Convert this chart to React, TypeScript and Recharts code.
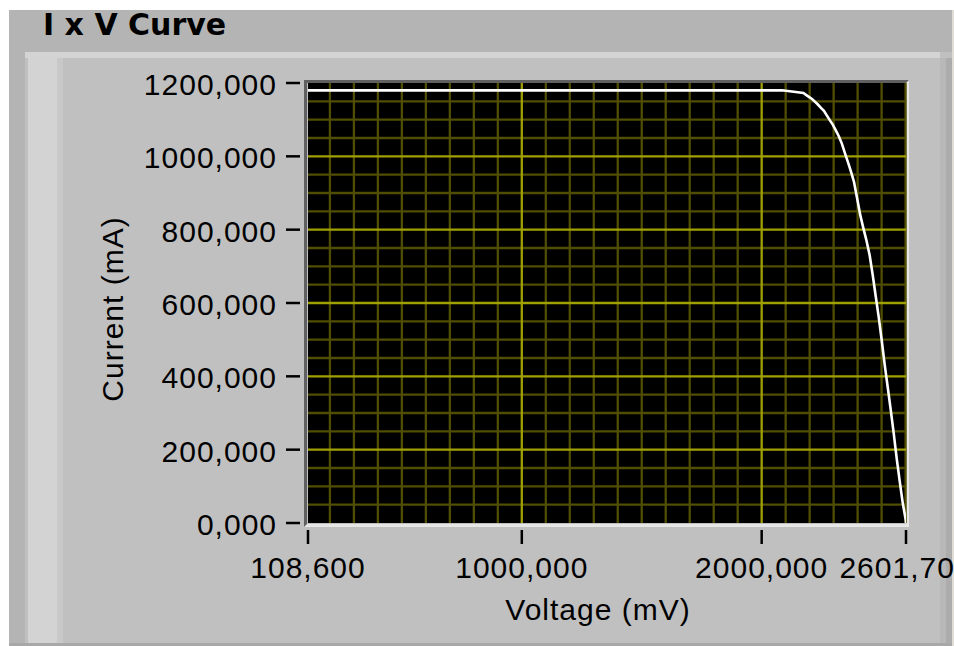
import { LineChart, Line, XAxis, YAxis, CartesianGrid } from "recharts";

// I x V curve, voltage in mV and current in mA
const voltage = [
  108.6, 2085, 2174, 2190.7, 2208.7, 2220.8, 2233.3, 2246.2, 2259.5, 2272,
  2284.6, 2297, 2309.6, 2322, 2334.7, 2347, 2359.7, 2372, 2385, 2397.3,
  2410.6, 2423.6, 2436, 2450.2, 2462.8, 2475.3, 2487.8, 2500.3, 2512.8,
  2525.4, 2537.9, 2550.4, 2562.9, 2575.4, 2588, 2600.5, 2601.7,
];
const current = [
  1180, 1180, 1173, 1165, 1157, 1150, 1142, 1133, 1124, 1111, 1098, 1086,
  1070, 1054, 1034, 1009, 984, 959, 930, 888, 841, 805, 773, 730, 677, 619,
  562, 499, 432, 371, 309, 245, 176, 114, 55, 9, 0,
];

const xTicks = [108.6, 1000, 2000, 2601.7];
const yTicks = [0, 200, 400, 600, 800, 1000, 1200];

const xMajorGrid = [1000, 2000];
const yMajorGrid = [200, 400, 600, 800, 1000];
const xMinorGrid = [
  200, 300, 400, 500, 600, 700, 800, 900, 1100, 1200, 1300, 1400, 1500, 1600,
  1700, 1800, 1900, 2100, 2200, 2300, 2400, 2500, 2600,
];
const yMinorGrid = [
  50, 100, 150, 250, 300, 350, 450, 500, 550, 650, 700, 750, 850, 900, 950,
  1050, 1100, 1150,
];

const data = voltage.map((v, i) => ({ v, i: current[i] }));

const W = 954;
const H = 646;
const PLOT_L = 308;
const PLOT_R = 906;
const PLOT_T = 83;
const PLOT_B = 523;
const X_AXIS_H = 100;

const FONT = "'Liberation Sans', Arial, sans-serif";
const fmt = (v: number) => v.toFixed(3).replace(".", ",");

function YTick({ x, y, payload }: any) {
  return (
    <g>
      <line x1={x - 22} x2={x - 8} y1={y} y2={y} stroke="#000" strokeWidth={2.5} />
      <text x={x - 31} y={y + 12} textAnchor="end" fontFamily={FONT} fontSize={30} letterSpacing={1} fill="#000">
        {fmt(payload.value)}
      </text>
    </g>
  );
}

function XTick({ x, y, payload }: any) {
  return (
    <g>
      <line x1={x} x2={x} y1={y + 7} y2={y + 21} stroke="#000" strokeWidth={2.5} />
      <text x={x} y={y + 55} textAnchor="middle" fontFamily={FONT} fontSize={30} letterSpacing={1} fill="#000">
        {fmt(payload.value)}
      </text>
    </g>
  );
}

const box = (l: number, t: number, w: number, h: number, bg: string): React.CSSProperties => ({
  position: "absolute",
  left: l,
  top: t,
  width: w,
  height: h,
  background: bg,
});

export default function App() {
  return (
    <div style={{ position: "absolute", left: 0, top: 0, width: W, height: H, overflow: "hidden", background: "#fff" }}>
      {/* panel chrome */}
      <div style={box(9, 10, 943, 42, "#b4b4b4")} />
      <div style={box(9, 52, 943, 594, "#c0c0c0")} />
      <div style={box(25, 52, 915, 6, "#d4d4d4")} />
      <div style={box(9, 52, 16, 594, "#b4b4b4")} />
      <div style={box(28, 55, 29, 591, "#d3d3d3")} />
      <div style={box(57, 58, 6, 588, "#c8c8c8")} />
      <div style={box(940, 58, 6, 588, "#b8b8b8")} />
      <div style={box(946, 58, 6, 588, "#acacac")} />
      <div style={box(952, 10, 2, 636, "#e0dcd6")} />
      <div style={box(9, 643, 943, 3, "#a8a8a8")} />
      <div
        style={{
          position: "absolute",
          left: 43,
          top: 9.5,
          fontFamily: "'DejaVu Sans', sans-serif",
          fontWeight: "bold",
          fontSize: 30,
          lineHeight: "30px",
          color: "#000",
          whiteSpace: "nowrap",
        }}
      >
        I x V Curve
      </div>
      {/* plot bevel */}
      <div
        style={{
          position: "absolute",
          left: PLOT_L - 4,
          top: PLOT_T - 3,
          width: PLOT_R - PLOT_L + 1,
          height: PLOT_B - PLOT_T + 1,
          borderTop: "3px solid #606060",
          borderLeft: "3px solid #606060",
          borderRight: "3px solid #e6e6e6",
          borderBottom: "3px solid #e6e6e6",
        }}
      />
      <div style={{ position: "absolute", left: 0, top: 0 }}>
        <LineChart
          width={W}
          height={H}
          data={data}
          margin={{ top: PLOT_T, right: W - PLOT_R, bottom: H - PLOT_B - X_AXIS_H, left: 0 }}
        >
          <CartesianGrid
            fill="#000"
            stroke="#504e00"
            strokeWidth={2.3}
            horizontalValues={yMinorGrid}
            verticalValues={xMinorGrid}
          />
          <CartesianGrid
            stroke="#a0a000"
            strokeWidth={2.3}
            horizontalValues={yMajorGrid}
            verticalValues={xMajorGrid}
          />
          <XAxis
            dataKey="v"
            type="number"
            domain={[108.6, 2601.7]}
            ticks={xTicks}
            allowDataOverflow
            height={X_AXIS_H}
            axisLine={false}
            tickLine={false}
            tickSize={0}
            tickMargin={0}
            interval={0}
            tick={<XTick />}
            label={(p: any) => {
              const vb = p.viewBox;
              return (
                <text x={vb.x + vb.width / 2 - 9} y={vb.y + 97} textAnchor="middle" fontFamily={FONT} fontSize={30} letterSpacing={1} fill="#000">
                  Voltage (mV)
                </text>
              );
            }}
          />
          <YAxis
            dataKey="i"
            type="number"
            domain={[0, 1200]}
            ticks={yTicks}
            allowDataOverflow
            width={PLOT_L}
            axisLine={false}
            tickLine={false}
            tickSize={0}
            tickMargin={0}
            interval={0}
            tick={<YTick />}
            label={(p: any) => {
              const vb = p.viewBox;
              const cx = vb.x + 123;
              const cy = vb.y + vb.height / 2 + 6;
              return (
                <text x={cx} y={cy} transform={`rotate(-90 ${cx} ${cy})`} textAnchor="middle" fontFamily={FONT} fontSize={30} letterSpacing={1} fill="#000">
                  Current (mA)
                </text>
              );
            }}
          />
          <Line
            type="linear"
            dataKey="i"
            stroke="#ffffff"
            strokeWidth={2.6}
            dot={false}
            isAnimationActive={false}
          />
        </LineChart>
      </div>
    </div>
  );
}
